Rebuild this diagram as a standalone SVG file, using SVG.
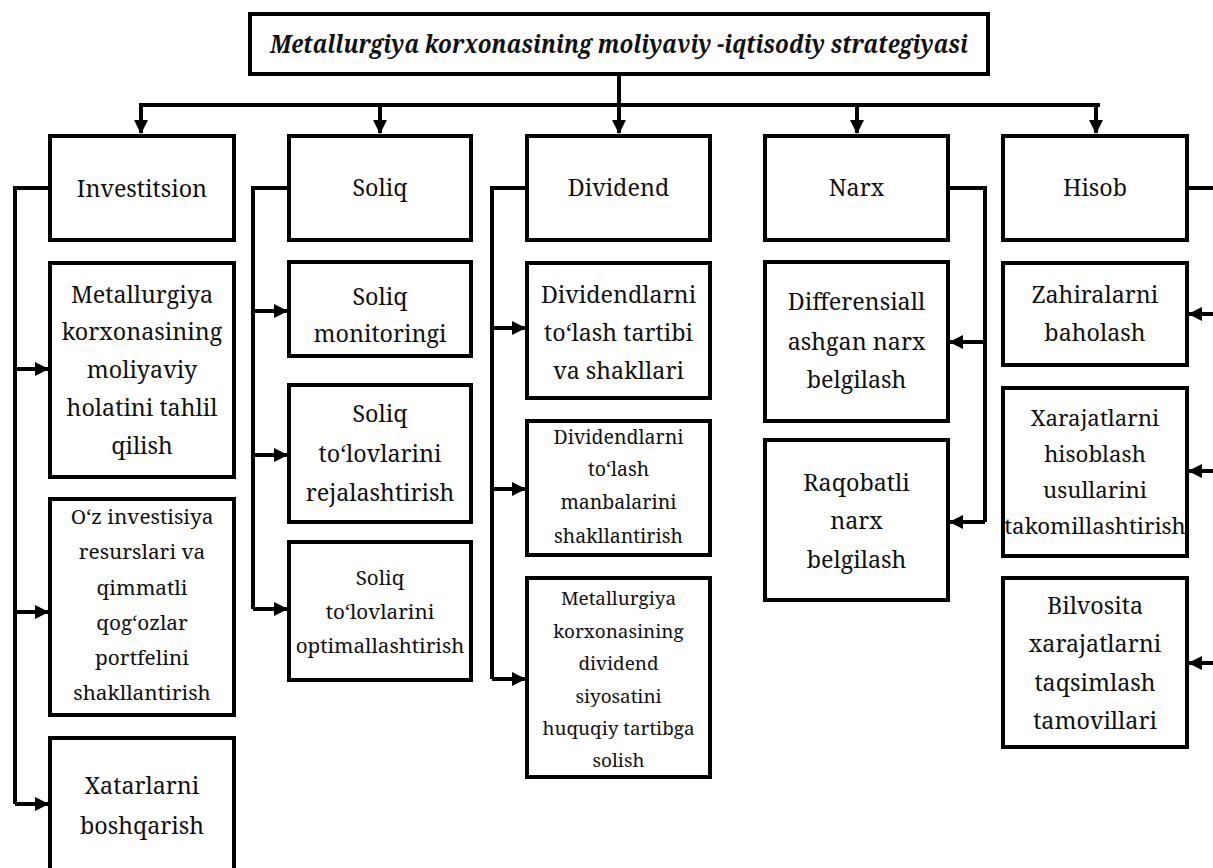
<svg xmlns="http://www.w3.org/2000/svg" width="1213" height="868" viewBox="0 0 1213 868">
<defs>
<marker id="arr" viewBox="0 0 14 14" refX="13" refY="7" markerWidth="14" markerHeight="14" markerUnits="userSpaceOnUse" orient="auto">
<path d="M0,0 L14,7 L0,14 z" fill="#000"/>
</marker>
<style>
.box{fill:#fff;stroke:#000;stroke-width:4}
.t{font-family:'Noto Serif','DejaVu Serif',serif;font-size:23.3px;fill:#111;text-anchor:middle}
.title{font-family:'Noto Serif','DejaVu Serif',serif;font-size:25px;font-weight:bold;font-style:italic;fill:#111;text-anchor:middle}
.s25{font-size:20.8px}
.s24{font-size:20.6px}
.s26{font-size:22.3px}
.s22{font-size:19.5px}
.s21{font-size:18.9px}
.c{fill:none;stroke:#000;stroke-width:4}
.a{fill:none;stroke:#000;stroke-width:4;marker-end:url(#arr)}
</style>
</defs>
<rect width="1213" height="868" fill="#fff"/>

<g id="connectors">
<path class="c" d="M619,76 V105 M139,105 H1100"/>
<path class="a" d="M141,105 V133"/>
<path class="a" d="M380,105 V133"/>
<path class="a" d="M619,105 V133"/>
<path class="a" d="M857,105 V133"/>
<path class="a" d="M1096,105 V133"/>
<path class="c" d="M48,188 H15 V804"/>
<path class="a" d="M15,369 H48"/>
<path class="a" d="M15,612 H48"/>
<path class="a" d="M15,804 H48"/>
<path class="c" d="M287,188 H253 V609"/>
<path class="a" d="M253,311 H287"/>
<path class="a" d="M253,455 H287"/>
<path class="a" d="M253,609 H287"/>
<path class="c" d="M525,188 H492 V679"/>
<path class="a" d="M492,328 H525"/>
<path class="a" d="M492,489 H525"/>
<path class="a" d="M492,679 H525"/>
<path class="c" d="M950,188 H985 V522"/>
<path class="a" d="M985,342 H950"/>
<path class="a" d="M985,522 H950"/>
<path class="c" d="M1189,188 H1222 V663"/>
<path class="a" d="M1222,314 H1189"/>
<path class="a" d="M1222,471 H1189"/>
<path class="a" d="M1222,663 H1189"/>
</g>

<g id="title">
<rect class="box" x="250" y="14" width="738" height="60"/>
<text class="title" x="619" y="53" textLength="698" lengthAdjust="spacingAndGlyphs">Metallurgiya korxonasining moliyaviy -iqtisodiy strategiyasi</text>
</g>

<g id="investitsion">
<rect class="box" x="50" y="136" width="184" height="104"/>
<text class="t" x="142" y="197">Investitsion</text>
</g>
<g id="inv1">
<rect class="box" x="50" y="263" width="184" height="214"/>
<text class="t" x="142" y="303">Metallurgiya</text>
<text class="t" x="142" y="340">korxonasining</text>
<text class="t" x="142" y="378">moliyaviy</text>
<text class="t" x="142" y="416">holatini tahlil</text>
<text class="t" x="142" y="454">qilish</text>
</g>
<g id="inv2">
<rect class="box" x="50" y="499" width="184" height="216"/>
<text class="t s25" x="142" y="524">O‘z investisiya</text>
<text class="t s25" x="142" y="559">resurslari va</text>
<text class="t s25" x="142" y="595">qimmatli</text>
<text class="t s25" x="142" y="630">qog‘ozlar</text>
<text class="t s25" x="142" y="665">portfelini</text>
<text class="t s25" x="142" y="700">shakllantirish</text>
</g>
<g id="inv3">
<rect class="box" x="50" y="738" width="184" height="150"/>
<text class="t" x="142" y="794">Xatarlarni</text>
<text class="t" x="142" y="834">boshqarish</text>
</g>

<g id="soliq">
<rect class="box" x="289" y="136" width="182" height="104"/>
<text class="t" x="380" y="196">Soliq</text>
</g>
<g id="sol1">
<rect class="box" x="289" y="262" width="182" height="94"/>
<text class="t" x="380" y="305">Soliq</text>
<text class="t" x="380" y="342">monitoringi</text>
</g>
<g id="sol2">
<rect class="box" x="289" y="385" width="182" height="137"/>
<text class="t" x="380" y="422">Soliq</text>
<text class="t" x="380" y="462">to‘lovlarini</text>
<text class="t" x="380" y="501">rejalashtirish</text>
</g>
<g id="sol3">
<rect class="box" x="289" y="542" width="182" height="138"/>
<text class="t s24" x="380" y="585">Soliq</text>
<text class="t s24" x="380" y="619">to‘lovlarini</text>
<text class="t s24" x="380" y="653">optimallashtirish</text>
</g>

<g id="dividend">
<rect class="box" x="527" y="136" width="183" height="104"/>
<text class="t" x="618.5" y="196">Dividend</text>
</g>
<g id="div1">
<rect class="box" x="527" y="263" width="183" height="135"/>
<text class="t" x="618.5" y="303">Dividendlarni</text>
<text class="t" x="618.5" y="341">to‘lash tartibi</text>
<text class="t" x="618.5" y="379">va shakllari</text>
</g>
<g id="div2">
<rect class="box" x="527" y="421" width="183" height="134"/>
<text class="t s22" x="618.5" y="444">Dividendlarni</text>
<text class="t s22" x="618.5" y="476">to‘lash</text>
<text class="t s22" x="618.5" y="509">manbalarini</text>
<text class="t s22" x="618.5" y="543">shakllantirish</text>
</g>
<g id="div3">
<rect class="box" x="527" y="578" width="183" height="199"/>
<text class="t s21" x="618.5" y="605">Metallurgiya</text>
<text class="t s21" x="618.5" y="638">korxonasining</text>
<text class="t s21" x="618.5" y="670">dividend</text>
<text class="t s21" x="618.5" y="703">siyosatini</text>
<text class="t s21" x="618.5" y="735">huquqiy tartibga</text>
<text class="t s21" x="618.5" y="767">solish</text>
</g>

<g id="narx">
<rect class="box" x="765" y="136" width="183" height="104"/>
<text class="t" x="856.5" y="196">Narx</text>
</g>
<g id="narx1">
<rect class="box" x="765" y="262" width="183" height="159"/>
<text class="t" x="856.5" y="310">Differensiall</text>
<text class="t" x="856.5" y="350">ashgan narx</text>
<text class="t" x="856.5" y="388">belgilash</text>
</g>
<g id="narx2">
<rect class="box" x="765" y="440" width="183" height="160"/>
<text class="t" x="856.5" y="491">Raqobatli</text>
<text class="t" x="856.5" y="529">narx</text>
<text class="t" x="856.5" y="568">belgilash</text>
</g>

<g id="hisob">
<rect class="box" x="1003" y="136" width="184" height="104"/>
<text class="t" x="1095" y="196">Hisob</text>
</g>
<g id="his1">
<rect class="box" x="1003" y="263" width="184" height="102"/>
<text class="t" x="1095" y="303">Zahiralarni</text>
<text class="t" x="1095" y="341">baholash</text>
</g>
<g id="his2">
<rect class="box" x="1003" y="388" width="184" height="168"/>
<text class="t s26" x="1095" y="426">Xarajatlarni</text>
<text class="t s26" x="1095" y="462">hisoblash</text>
<text class="t s26" x="1095" y="498">usullarini</text>
<text class="t s26" x="1095" y="534">takomillashtirish</text>
</g>
<g id="his3">
<rect class="box" x="1003" y="578" width="184" height="169"/>
<text class="t" x="1095" y="614">Bilvosita</text>
<text class="t" x="1095" y="652">xarajatlarni</text>
<text class="t" x="1095" y="691">taqsimlash</text>
<text class="t" x="1095" y="729">tamovillari</text>
</g>
</svg>
